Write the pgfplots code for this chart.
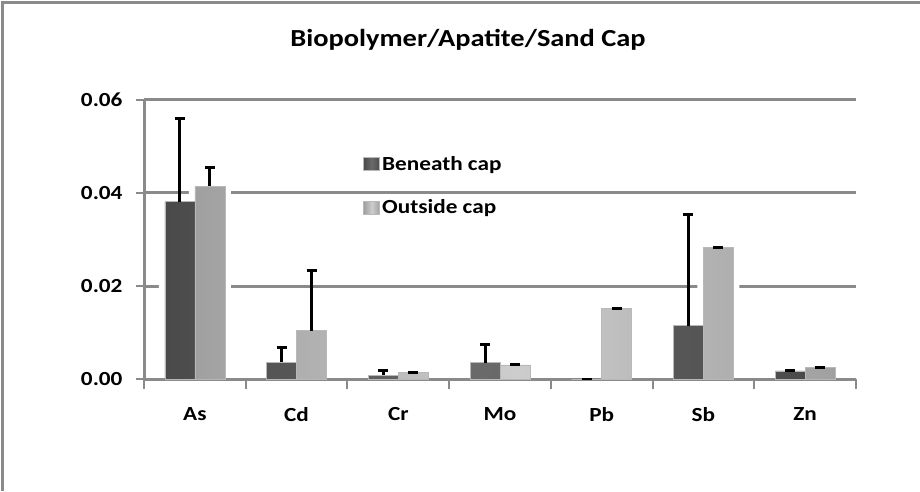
\documentclass[border=0pt]{standalone}
\usepackage{fontspec}
\setmainfont{Carlito}[FakeStretch=1.16]
\usepackage{pgfplots}
\pgfplotsset{compat=1.18}
\usepackage{pgfplotstable}

\definecolor{gridgray}{HTML}{8A8A8A}
\definecolor{darkedge}{HTML}{4A4A4A}
\definecolor{darkmid}{HTML}{6A6A6A}
\definecolor{lightedge}{HTML}{A0A0A0}
\definecolor{lightmid}{HTML}{CDCDCD}

\tikzset{
  darkbar/.style={left color=darkedge, right color=darkedge, middle color=darkmid, draw=white!72!black, line width=0.7pt},
  lightbar/.style={left color=lightedge, right color=lightedge, middle color=lightmid, draw=white!72!black, line width=0.7pt},
}

% xb/xo: bar centres (category +/- half a bar); b/o: values; be/oe: upper errors; hb/ho: white halo heights
\pgfplotstableread{
xb xo b be o oe hb ho
-0.1475 0.1475 0.0381 0.0179 0.0414 0.0040 0.0394 0.0427
0.8525 1.1475 0.0037 0.0032 0.0104 0.0130 0.0050 0.0117
1.8525 2.1475 0.0009 0.0010 0.0015 0.0000 0.0022 0.0028
2.8525 3.1475 0.0036 0.0039 0.0031 0.0000 0.0049 0.0044
3.8525 4.1475 0.0000 0.0000 0.0152 0.0000 0.0000 0.0165
4.8525 5.1475 0.0115 0.0239 0.0282 0.0000 0.0128 0.0295
5.8525 6.1475 0.0018 0.0000 0.0025 0.0000 0.0031 0.0038
}\data

\begin{document}
\begin{tikzpicture}
\fill[gridgray] (0.5pt,-491pt) rectangle (3.5pt,-1pt);
\fill[gridgray] (0.5pt,-1pt) rectangle (920pt,-4pt);
\node[font=\fontsize{24.5}{28}\selectfont\bfseries, anchor=base] at (468pt,-46pt) {Biopolymer/Apatite/Sand Cap};
\begin{axis}[
  at={(144pt,-379.3pt)}, anchor=south west,
  scale only axis, width=712pt, height=279.8pt,
  xmin=-0.5, xmax=6.5, ymin=0, ymax=0.06,
  axis x line*=bottom, axis y line*=left,
  axis line style={gridgray, line width=3pt, -},
  xtick={0,...,6}, xticklabels={As,Cd,Cr,Mo,Pb,Sb,Zn},
  major x tick style={draw=none},
  minor xtick={-0.5,0.5,...,6.5},
  minor x tick style={gridgray, line width=2pt},
  ytick={0,0.02,0.04,0.06}, yticklabels={0.00,0.02,0.04,0.06},
  scaled y ticks=false,
  ytick pos=left,
  y tick style={gridgray, line width=2pt},
  tick align=outside,
  major tick length=8pt, minor tick length=10pt,
  ymajorgrids, grid style={gridgray, line width=3pt},
  ticklabel style={font=\fontsize{20}{24}\selectfont\bfseries},
  yticklabel style={xshift=-10pt},
  xticklabel style={yshift=-17pt},
  error bars/y dir=plus, error bars/y explicit,
  error bars/error bar style={black, line width=3pt},
  error bars/error mark options={black, line width=3pt, mark size=5pt, rotate=90},
  legend style={at={(0.308,0.805)}, anchor=north west, draw=none, fill=none,
    font=\fontsize{20}{24}\selectfont\bfseries, row sep=24pt, inner sep=0pt},
  legend cell align=left,
]
% white halos behind the bars
\addplot[ybar, bar width=42pt, bar shift=0pt, fill=white, draw=none, forget plot, error bars/y dir=none] table[x=xb, y=hb]{\data};
\addplot[ybar, bar width=42pt, bar shift=0pt, fill=white, draw=none, forget plot, error bars/y dir=none] table[x=xo, y=ho]{\data};
% base line restored over the halos
\addplot[gridgray, line width=3pt, forget plot, error bars/y dir=none] coordinates {(-0.5,0) (6.5,0)};
% bars
\addplot[ybar, bar width=30pt, bar shift=0pt, darkbar, forget plot] table[x=xb, y=b, y error=be]{\data};
\addplot[ybar, bar width=30pt, bar shift=0pt, lightbar, forget plot] table[x=xo, y=o, y error=oe]{\data};
\addlegendimage{legend image code/.code={\draw[darkbar] (0pt,-6.5pt) rectangle (16pt,6.5pt);}}
\addlegendentry{Beneath cap}
\addlegendimage{legend image code/.code={\draw[lightbar] (0pt,-6.5pt) rectangle (16pt,6.5pt);}}
\addlegendentry{Outside cap}
\end{axis}
\pgfresetboundingbox
\useasboundingbox (0pt,0pt) rectangle (920pt,-491pt);
\end{tikzpicture}
\end{document}
